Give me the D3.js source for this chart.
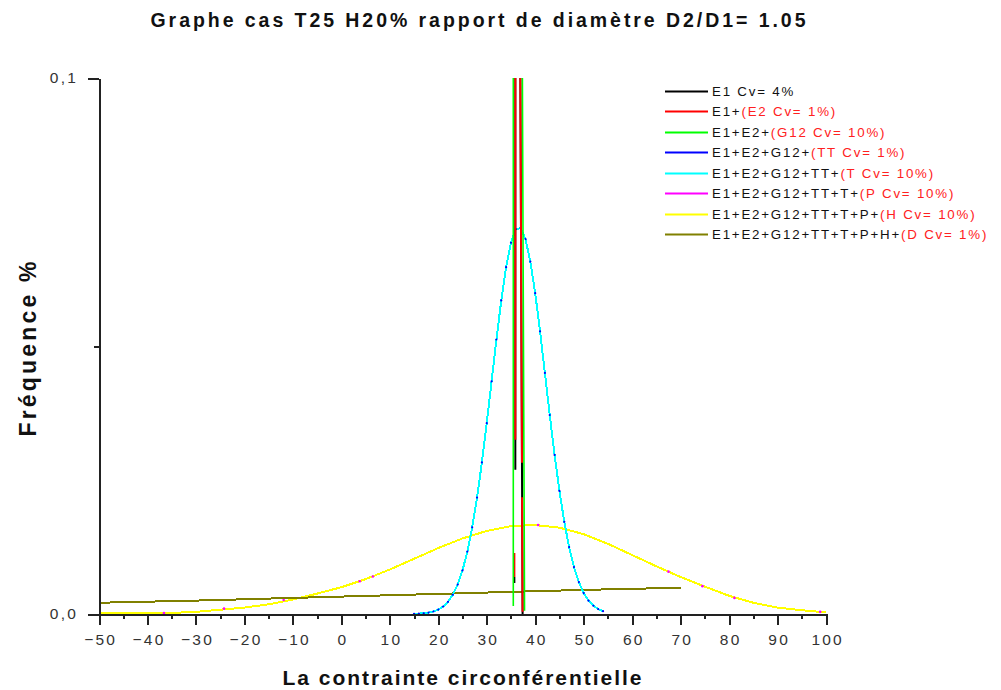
<!DOCTYPE html>
<html>
<head>
<meta charset="utf-8">
<script src="https://cdnjs.cloudflare.com/ajax/libs/d3/7.8.5/d3.min.js"></script>
<style>
  html, body { margin: 0; padding: 0; background: #fff; }
  svg { display: block; font-family: "Liberation Sans", Arial, sans-serif; }
</style>
</head>
<body>
<svg id="chart" width="1001" height="690"></svg>
<script>
// ---- data: stress (x) and frequency (y) for each cumulative case ----
// narrow cases: sides of very tall, thin distributions (null = gap)
const e1X = [35.70, 35.70, null, 35.90, 35.90, 36.93, 37.40];
const e1Y = [0.0058, 0.0069, null, 0.0269, 0.102, 0.102, 0.0];
const e2X = [35.70, 35.70, null, 35.90, 35.90, 36.93, 37.27, null, 37.30, 37.40];
const e2Y = [0.0069, 0.0114, null, 0.0325, 0.102, 0.102, 0.0282, null, 0.0218, 0.0004];
const g12X = [35.48, 35.48, 37.35, 37.80];
const g12Y = [0.0015, 0.102, 0.102, 0.0006];

// T case (cyan) and TT case (blue points on the same curve)
const tX = [15,16,17,18,19,20,21,22,23,24,25,26,27,28,29,30,31,32,33,34,
            35,36,37,38,39,40,41,42,43,44,45,46,47,48,49,50,51,52,53,54];
const tY = [0.00004,0.00007,0.00014,0.00026,0.00047,0.00082,0.00139,0.00227,0.00359,0.00549,
            0.00813,0.01165,0.01617,0.02173,0.02827,0.03560,0.04339,0.05121,0.05850,0.06470,
            0.06926,0.07178,0.07201,0.06994,0.06575,0.05985,0.05273,0.04497,0.03713,0.02968,
            0.02297,0.01720,0.01248,0.00876,0.00595,0.00391,0.00249,0.00154,0.00092,0.00053];

// H case (yellow)
const hX = [-50,-45,-40,-35,-30,-25,-20,-15,-10,-5,0,5,10,15,20,25,30,35,40,45,
            50,55,60,65,70,75,80,85,90,95,100];
const hY = [0.0001,0.0001,0.0001,0.0002,0.0004,0.0008,0.0012,0.0018,0.0027,0.0038,
            0.0050,0.0065,0.0083,0.0103,0.0123,0.0141,0.0155,0.0164,0.0166,0.0161,
            0.0149,0.0131,0.0110,0.0089,0.0069,0.0051,0.0034,0.0021,0.0012,0.0007,0.0003];

// P case (magenta points lying on the H curve)
const pX = [-36.6, -24.2, -11.9, 3.8, 6.5, 40.6, 67.5, 74.5, 81.1, 98.8];
const pY = [0.0002, 0.0010, 0.0026, 0.0061, 0.0070, 0.0166, 0.0079, 0.0052, 0.0030, 0.0004];

// D case (olive)
const dX = [-50, -30, -10, 10, 30, 50, 70];
const dY = [0.0021, 0.0025, 0.0030, 0.0035, 0.0040, 0.0045, 0.0049];

// axes
const xMajor = [-50,-40,-30,-20,-10,0,10,20,30,40,50,60,70,80,90,100];
const xMinor = [-45,-35,-25,-15,-5,5,15,25,35,45,55,65,75,85,95];
const yMajor = [0, 0.1];
const yMinor = [0.05];

// legend
const legendNames = [
  ["E1 Cv= 4%", ""],
  ["E1+", "(E2 Cv= 1%)"],
  ["E1+E2+", "(G12 Cv= 10%)"],
  ["E1+E2+G12+", "(TT Cv= 1%)"],
  ["E1+E2+G12+TT+", "(T Cv= 10%)"],
  ["E1+E2+G12+TT+T+", "(P Cv= 10%)"],
  ["E1+E2+G12+TT+T+P+", "(H Cv= 10%)"],
  ["E1+E2+G12+TT+T+P+H+", "(D Cv= 1%)"]
];
const legendColors = ["#000000", "#ff0000", "#00ff00", "#0000ff", "#00ffff", "#ff00ff", "#ffff00", "#808000"];

// ---- drawing ----
const svg = d3.select("#chart");
const plot = { left: 99, right: 826, top: 78, bottom: 614 };

const x = d3.scaleLinear().domain([-50, 100]).range([plot.left, plot.right]);
const y = d3.scaleLinear().domain([0, 0.1]).range([plot.bottom, plot.top]);

svg.append("defs").append("clipPath").attr("id", "plotClip")
  .append("rect")
  .attr("x", plot.left).attr("y", plot.top)
  .attr("width", plot.right - plot.left + 2)
  .attr("height", plot.bottom - plot.top);

const zip = (xs, ys) => xs.map((v, i) => (v === null ? null : [v, ys[i]]));
const line = d3.line()
  .defined(d => d !== null)
  .x(d => x(d[0]))
  .y(d => y(d[1]));

const g = svg.append("g").attr("clip-path", "url(#plotClip)");

function drawLine(xs, ys, color, width, crisp) {
  g.append("path")
    .datum(zip(xs, ys))
    .attr("d", line)
    .attr("fill", "none")
    .attr("stroke", color)
    .attr("stroke-width", width)
    .attr("shape-rendering", crisp ? "crispEdges" : "auto");
}

function drawDots(xs, ys, color, r) {
  g.append("g").selectAll("circle")
    .data(zip(xs, ys))
    .join("circle")
    .attr("cx", d => x(d[0]))
    .attr("cy", d => y(d[1]))
    .attr("r", r)
    .attr("fill", color);
}

drawLine(hX, hY, "#ffff00", 2, true);
drawDots(pX, pY, "#ff00ff", 1.3);
drawLine(dX, dY, "#808000", 2, true);
drawLine(tX, tY, "#00ffff", 2, true);
drawDots(tX, tY, "#0000ff", 1.1);
drawLine(e1X, e1Y, "#000000", 2, false);
drawLine(e2X, e2Y, "#ff0000", 2, false);
drawLine(g12X, g12Y, "#00ff00", 1.6, false);

// axes
const axisColor = "#222";
const fmtY = d => d3.format(".1f")(d).replace(".", ",");

const xAxis = svg.append("g")
  .attr("transform", `translate(0,${plot.bottom})`)
  .call(d3.axisBottom(x).tickValues(xMajor).tickSize(11).tickSizeOuter(0).tickPadding(9).tickFormat(d3.format("d")));
const xAxisMinor = svg.append("g")
  .attr("transform", `translate(0,${plot.bottom})`)
  .call(d3.axisBottom(x).tickValues(xMinor).tickSize(5).tickSizeOuter(0).tickFormat(""));
xAxisMinor.select(".domain").remove();

const yAxis = svg.append("g")
  .attr("transform", `translate(${plot.left},0)`)
  .call(d3.axisLeft(y).tickValues(yMajor).tickSize(11).tickSizeOuter(0).tickPadding(10).tickFormat(fmtY));
const yAxisMinor = svg.append("g")
  .attr("transform", `translate(${plot.left},0)`)
  .call(d3.axisLeft(y).tickValues(yMinor).tickSize(5).tickSizeOuter(0).tickFormat(""));
yAxisMinor.select(".domain").remove();

svg.selectAll(".domain, .tick line")
  .attr("stroke", axisColor)
  .attr("stroke-width", 2)
  .attr("shape-rendering", "crispEdges");
svg.selectAll(".tick text")
  .attr("fill", "#333")
  .style("font-size", "15.5px")
  .style("letter-spacing", "2.2px");
xAxis.selectAll(".tick text").attr("dx", "1.1px");

// titles
svg.append("text")
  .attr("x", 478).attr("y", 27)
  .attr("text-anchor", "middle")
  .attr("textLength", 655).attr("lengthAdjust", "spacing")
  .style("font-size", "19.5px").style("font-weight", "bold").attr("fill", "#111")
  .text("Graphe cas  T25 H20% rapport de diamètre D2/D1= 1.05");

svg.append("text")
  .attr("x", 462).attr("y", 685)
  .attr("text-anchor", "middle")
  .attr("textLength", 359).attr("lengthAdjust", "spacing")
  .style("font-size", "21px").style("font-weight", "bold").attr("fill", "#111")
  .text("La contrainte circonférentielle");

svg.append("text")
  .attr("transform", "translate(36,349) rotate(-90)")
  .attr("text-anchor", "middle")
  .attr("textLength", 175).attr("lengthAdjust", "spacing")
  .style("font-size", "23px").style("font-weight", "bold").attr("fill", "#111")
  .text("Fréquence %");

// legend
const legend = svg.append("g").attr("transform", "translate(665,91)");
legendNames.forEach((nm, i) => {
  const row = legend.append("g").attr("transform", `translate(0,${Math.round(i * 20.45)})`);
  row.append("line")
    .attr("x1", 0).attr("x2", 43).attr("y1", 0.5).attr("y2", 0.5)
    .attr("stroke", legendColors[i]).attr("stroke-width", 2);
  const t = row.append("text")
    .attr("x", 47).attr("y", 5)
    .style("font-size", "13.3px").style("letter-spacing", "1.8px");
  t.append("tspan").attr("fill", "#111").text(nm[0]);
  if (nm[1]) t.append("tspan").attr("fill", "#ff2020").text(nm[1]);
});
</script>
</body>
</html>
